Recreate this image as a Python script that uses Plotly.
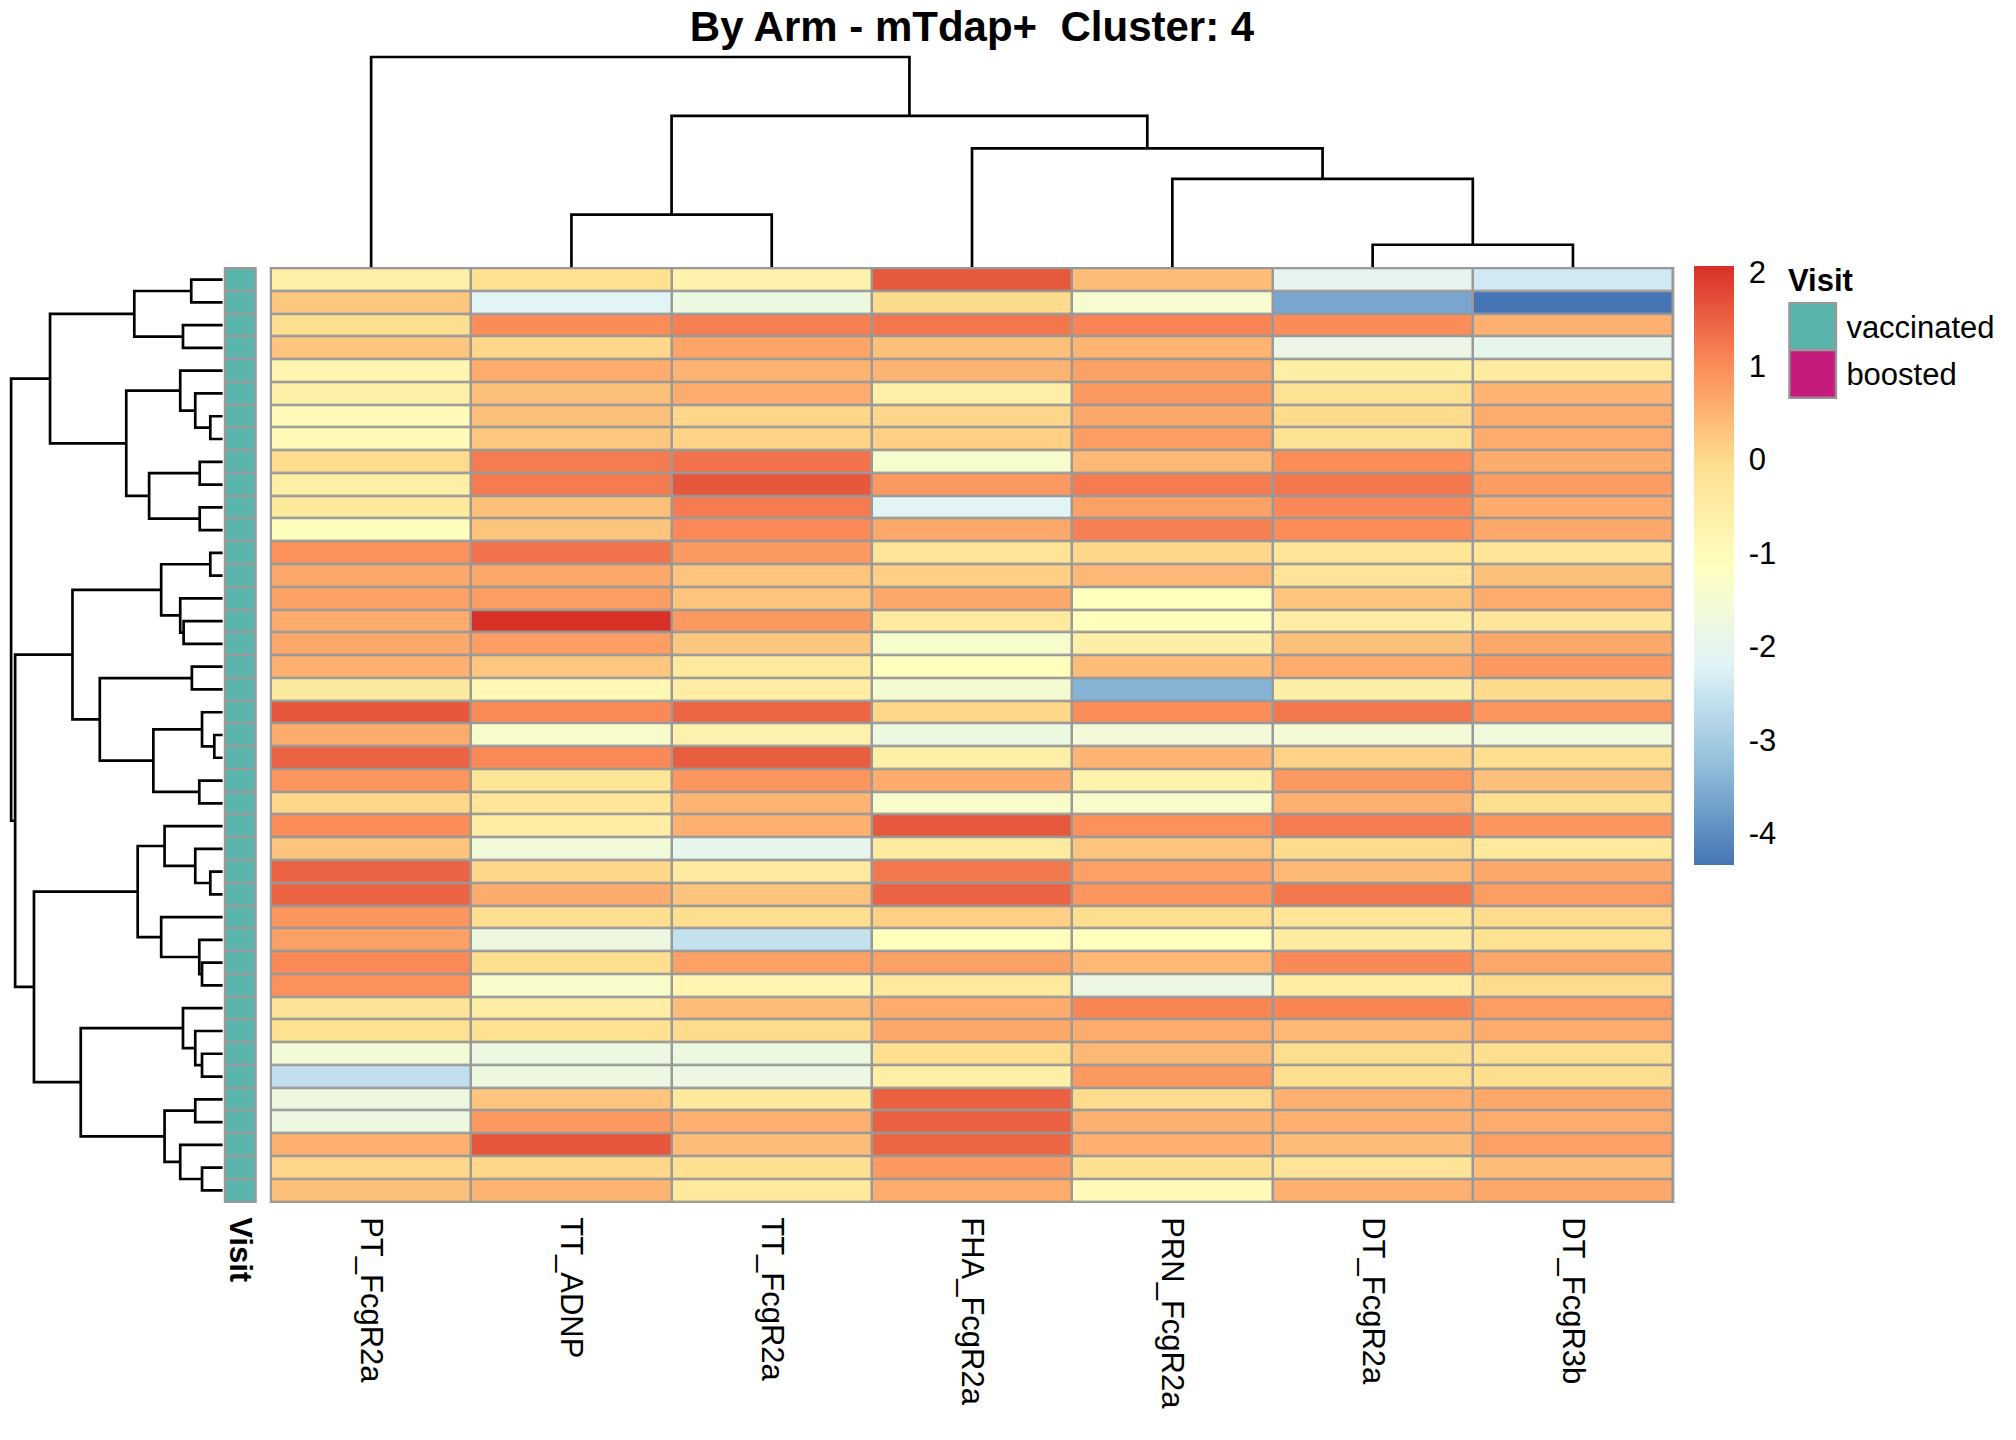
import plotly.graph_objects as go

# ---------------- data ----------------
title_text = "By Arm - mTdap+\u00a0 Cluster: 4"

col_labels = ["PT_FcgR2a", "TT_ADNP", "TT_FcgR2a", "FHA_FcgR2a",
              "PRN_FcgR2a", "DT_FcgR2a", "DT_FcgR3b"]

# one list per column, rows top -> bottom (41 samples)
PT_FcgR2a = [-0.6, 0.25, -0.05, 0.3, -0.8, -0.6, -0.97, -0.97, 0.0, -0.6,
             -0.36, -1.1, 0.95, 0.65, 0.75, 0.6, 0.65, 0.55, -0.4, 1.62,
             0.6, 1.48, 0.9, 0.05, 1.0, 0.3, 1.48, 1.48, 0.9, 0.75,
             1.05, 0.95, -0.2, -0.1, -1.6, -2.62, -1.77, -1.77, 0.55, 0.05,
             0.35]
TT_ADNP = [-0.1, -2.14, 1.0, 0.05, 0.6, 0.35, 0.35, 0.25, 1.2, 1.2,
           0.35, 0.3, 1.3, 0.65, 0.8, 2.05, 0.8, 0.25, -0.9, 1.05,
           -1.36, 1.05, -0.25, -0.25, -0.5, -1.62, 0.05, 0.6, -0.05, -1.75,
           -0.05, -1.36, -0.5, -0.1, -1.78, -1.75, 0.3, 0.85, 1.62, 0.05,
           0.5]
TT_FcgR2a = [-0.7, -1.75, 1.15, 0.7, 0.5, 0.6, 0.05, 0.1, 1.3, 1.62,
             1.2, 1.05, 0.85, 0.3, 0.3, 0.85, 0.25, -0.36, -0.5, 1.45,
             -0.7, 1.55, 0.9, 0.5, 0.55, -1.97, -0.43, 0.3, -0.05, -2.58,
             0.75, -0.8, 0.4, 0.0, -1.75, -1.8, -0.36, 0.55, 0.4, -0.1,
             -0.36]
FHA_FcgR2a = [1.6, 0.0, 1.25, 0.35, 0.5, -0.6, 0.05, 0.15, -1.4, 0.85,
              -2.14, 0.65, -0.2, 0.15, 0.65, -0.4, -1.4, -1.1, -1.5, 0.05,
              -1.75, -0.6, 0.6, -1.36, 1.6, -0.43, 1.25, 1.48, 0.15, -1.1,
              0.75, -0.36, 0.6, 0.65, -0.05, -0.6, 1.52, 1.52, 1.45, 0.85,
              0.6]
PRN_FcgR2a = [0.4, -1.43, 1.1, 0.5, 0.75, 0.85, 0.65, 0.8, 0.45, 1.2,
              0.75, 1.15, 0.05, 0.45, -1.1, -1.1, -0.6, 0.4, -3.45, 1.0,
              -1.6, 0.5, -0.7, -1.36, 0.95, 0.3, 0.75, 0.9, -0.05, -1.1,
              0.45, -1.8, 1.1, 0.6, 0.45, 0.85, 0.0, 0.55, 0.55, -0.1,
              -0.97]
DT_FcgR2a = [-2.0, -3.63, 1.0, -1.83, -0.6, -0.15, 0.0, -0.15, 1.0, 1.25,
             1.05, 1.0, -0.25, -0.25, 0.3, -0.55, 0.35, 0.6, -0.6, 1.25,
             -1.55, 0.1, 0.85, 0.55, 1.2, 0.0, 0.45, 1.25, -0.25, -0.43,
             1.05, -0.5, 1.1, 0.45, -0.05, -0.05, 0.55, 0.55, 0.4, -0.2,
             0.55]
DT_FcgR3b = [-2.4, -4.34, 0.55, -1.95, -0.43, 0.5, 0.6, 0.6, 0.6, 0.8,
             0.6, 0.65, -0.25, 0.35, 0.6, -0.25, 0.65, 0.85, 0.0, 0.9,
             -1.65, -0.05, 0.35, -0.05, 0.9, -0.36, 0.65, 0.8, 0.0, -0.1,
             0.65, 0.0, 0.8, 0.6, -0.05, -0.05, 0.65, 0.6, 0.75, 0.4,
             0.65]

visit_levels = ["vaccinated", "boosted"]
visit_colors = ["#5AB4AC", "#C51B7D"]
row_visit = ["vaccinated", "vaccinated", "vaccinated", "vaccinated", "vaccinated",
             "vaccinated", "vaccinated", "vaccinated", "vaccinated", "vaccinated",
             "vaccinated", "vaccinated", "vaccinated", "vaccinated", "vaccinated",
             "vaccinated", "vaccinated", "vaccinated", "vaccinated", "vaccinated",
             "vaccinated", "vaccinated", "vaccinated", "vaccinated", "vaccinated",
             "vaccinated", "vaccinated", "vaccinated", "vaccinated", "vaccinated",
             "vaccinated", "vaccinated", "vaccinated", "vaccinated", "vaccinated",
             "vaccinated", "vaccinated", "vaccinated", "vaccinated", "vaccinated",
             "vaccinated"]

# hclust-style merges (negative = leaf in display order, positive = earlier merge)
row_merge = [(-1, -2), (-3, -4), (1, 2), (-7, -8), (-6, 4), (-5, 5), (-9, -10),
             (-11, -12), (7, 8), (6, 9), (3, 10), (-13, -14), (-16, -17), (-15, 13),
             (12, 14), (-18, -19), (-21, -22), (-20, 17), (-23, -24), (18, 19),
             (16, 20), (15, 21), (-27, -28), (-26, 23), (-25, 24), (-31, -32),
             (-30, 26), (-29, 27), (25, 28), (-35, -36), (-34, 30), (-33, 31),
             (-37, -38), (-40, -41), (-39, 34), (33, 35), (32, 36), (29, 37),
             (22, 38), (11, 39)]
row_height = [1.49, 1.88, 4.18, 0.59, 1.30, 2.01, 1.09, 1.09, 3.48, 4.56,
              8.16, 0.59, 1.85, 2.01, 2.91, 1.46, 0.40, 0.98, 1.11, 3.28,
              5.81, 7.10, 0.59, 1.30, 2.75, 0.98, 1.11, 2.91, 4.02, 0.98,
              1.30, 1.88, 1.30, 0.98, 2.01, 2.75, 6.71, 8.92, 9.81, 10.0]

col_merge = [(-6, -7), (-2, -3), (-5, 1), (-4, 3), (2, 4), (-1, 5)]
col_height = [0.106, 0.249, 0.42, 0.565, 0.72, 1.0]

colorbar_ticks = [2, 1, 0, -1, -2, -3, -4]
z_min, z_max = -4.34, 2.07

# ---------------- styling ----------------
W, H = 2016, 1440
FONT = "Liberation Sans, Arial, sans-serif"
GRID = "#999999"
palette = ["#4575B4", "#91BFDB", "#E0F3F8", "#FFFFBF", "#FEE090", "#FC8D59", "#D73027"]
colorscale = [[i / (len(palette) - 1), c] for i, c in enumerate(palette)]


def px_x(p):
    return p / W


def px_y(p):
    return 1 - p / H


def dendro(merge, heights):
    pos, hgt = {}, {}
    hs, ps = [], []

    def child(c):
        if c < 0:
            return -c - 1, 0.0
        return pos[c], hgt[c]

    for i, (a, b) in enumerate(merge, start=1):
        pa, ha = child(a)
        pb, hb = child(b)
        h = heights[i - 1]
        pos[i] = (pa + pb) / 2
        hgt[i] = h
        hs += [ha, h, h, hb, None]
        ps += [pa, pa, pb, pb, None]
    return hs, ps


columns = [PT_FcgR2a, TT_ADNP, TT_FcgR2a, FHA_FcgR2a, PRN_FcgR2a, DT_FcgR2a, DT_FcgR3b]
n_rows = len(PT_FcgR2a)
n_cols = len(columns)
z = [[col[i] for col in columns] for i in range(n_rows)]

# pixel layout
hm_x0, hm_x1, hm_y0, hm_y1 = 269, 1675, 267, 1203
gap = 2.5
row_px = (hm_y1 - hm_y0) / n_rows
col_px = (hm_x1 - hm_x0) / n_cols
ey = (gap / 2) / row_px
ex = (gap / 2) / col_px

fig = go.Figure()

# main heatmap
fig.add_trace(go.Heatmap(
    z=z, x=list(range(n_cols)), y=list(range(n_rows)),
    colorscale=colorscale, zmin=z_min, zmax=z_max,
    xgap=gap, ygap=gap, hoverinfo="skip",
    xaxis="x", yaxis="y",
    colorbar=dict(
        x=px_x(1695), xanchor="left", xpad=0,
        y=px_y(266), yanchor="top", ypad=0,
        len=599, lenmode="pixels", thickness=40, thicknessmode="pixels",
        outlinewidth=0, tickvals=colorbar_ticks,
        ticktext=[str(t) for t in colorbar_ticks],
        ticks="outside", ticklen=9, tickcolor="rgba(0,0,0,0)",
        tickfont=dict(family=FONT, size=31, color="black"),
    ),
))

# annotation column (Visit)
fig.add_trace(go.Heatmap(
    z=[[visit_levels.index(v)] for v in row_visit],
    x=[0], y=list(range(n_rows)),
    colorscale=[[0, visit_colors[0]], [0.5, visit_colors[0]],
                [0.5, visit_colors[1]], [1, visit_colors[1]]],
    zmin=0, zmax=1, showscale=False, xgap=gap, ygap=gap, hoverinfo="skip",
    xaxis="x2", yaxis="y",
))

# row dendrogram
rh, rp = dendro(row_merge, row_height)
fig.add_trace(go.Scatter(x=rh, y=rp, mode="lines", line=dict(color="black", width=2.7),
                         hoverinfo="skip", showlegend=False, xaxis="x3", yaxis="y"))

# column dendrogram
ch, cp = dendro(col_merge, col_height)
fig.add_trace(go.Scatter(x=cp, y=ch, mode="lines", line=dict(color="black", width=2.7),
                         hoverinfo="skip", showlegend=False, xaxis="x", yaxis="y3"))

# legend for Visit
fig.add_trace(go.Heatmap(
    z=[[0], [1]], x=[0], y=[0, 1],
    colorscale=[[0, visit_colors[0]], [0.5, visit_colors[0]],
                [0.5, visit_colors[1]], [1, visit_colors[1]]],
    zmin=0, zmax=1, showscale=False, xgap=gap, ygap=gap, hoverinfo="skip",
    xaxis="x5", yaxis="y5",
))

hidden = dict(showgrid=False, zeroline=False, showline=False, showticklabels=False,
              ticks="", fixedrange=True)
tickfont = dict(family=FONT, size=31, color="black")

fig.update_layout(
    width=W, height=H, margin=dict(l=0, r=0, t=0, b=0),
    paper_bgcolor="white", plot_bgcolor="white", showlegend=False,
    title=dict(text=title_text, x=px_x(972), xanchor="center",
               y=px_y(26), yanchor="middle",
               font=dict(family=FONT, size=42, color="black", weight="bold")),
    xaxis=dict(domain=[px_x(hm_x0), px_x(hm_x1)], range=[-0.5 - ex, n_cols - 0.5 + ex],
               anchor="y", showgrid=False, zeroline=False, showline=False,
               tickmode="array", tickvals=list(range(n_cols)), ticktext=col_labels,
               tickangle=90, ticks="outside", ticklen=7, tickcolor="rgba(0,0,0,0)",
               tickfont=tickfont, fixedrange=True),
    yaxis=dict(domain=[px_y(hm_y1), px_y(hm_y0)], range=[n_rows - 0.5 + ey, -0.5 - ey],
               anchor="x", **hidden),
    xaxis2=dict(domain=[px_x(223), px_x(256)], range=[-0.5 - 1.25 / 33, 0.5 + 1.25 / 33],
                anchor="y", showgrid=False, zeroline=False, showline=False,
                tickmode="array", tickvals=[0], ticktext=["<b>Visit</b>"],
                tickangle=90, ticks="outside", ticklen=7, tickcolor="rgba(0,0,0,0)",
                tickfont=tickfont, fixedrange=True),
    xaxis3=dict(domain=[px_x(8), px_x(222)], range=[row_height[-1] * 1.01, 0],
                anchor="y", **hidden),
    yaxis3=dict(domain=[px_y(hm_y0), px_y(55)], range=[0, col_height[-1] * 1.0095],
                anchor="x", **hidden),
    xaxis5=dict(domain=[px_x(1789), px_x(1838)], range=[-0.5 - 1.25 / 49, 0.5 + 1.25 / 49],
                anchor="y5", **hidden),
    yaxis5=dict(domain=[px_y(399), px_y(302)], range=[1.5 + 1.25 / 48, -0.5 - 1.25 / 48],
                anchor="x5", side="right", showgrid=False, zeroline=False, showline=False,
                tickmode="array", tickvals=[0, 1], ticktext=visit_levels,
                ticks="outside", ticklen=2, tickcolor="rgba(0,0,0,0)",
                tickfont=tickfont, fixedrange=True),
    shapes=[
        dict(type="rect", xref="x domain", yref="y domain", x0=0, x1=1, y0=0, y1=1,
             fillcolor=GRID, line=dict(width=0), layer="below"),
        dict(type="rect", xref="x2 domain", yref="y domain", x0=0, x1=1, y0=0, y1=1,
             fillcolor=GRID, line=dict(width=0), layer="below"),
        dict(type="rect", xref="x5 domain", yref="y5 domain", x0=0, x1=1, y0=0, y1=1,
             fillcolor=GRID, line=dict(width=0), layer="below"),
    ],
    annotations=[
        dict(text="<b>Visit</b>", xref="paper", yref="paper", x=px_x(1787), y=px_y(281),
             xanchor="left", yanchor="middle", showarrow=False,
             font=dict(family=FONT, size=31, color="black")),
    ],
)

fig.write_html("out.html", config={"displayModeBar": False},
               post_script="document.body.style.margin='0';document.body.style.overflow='hidden';")
